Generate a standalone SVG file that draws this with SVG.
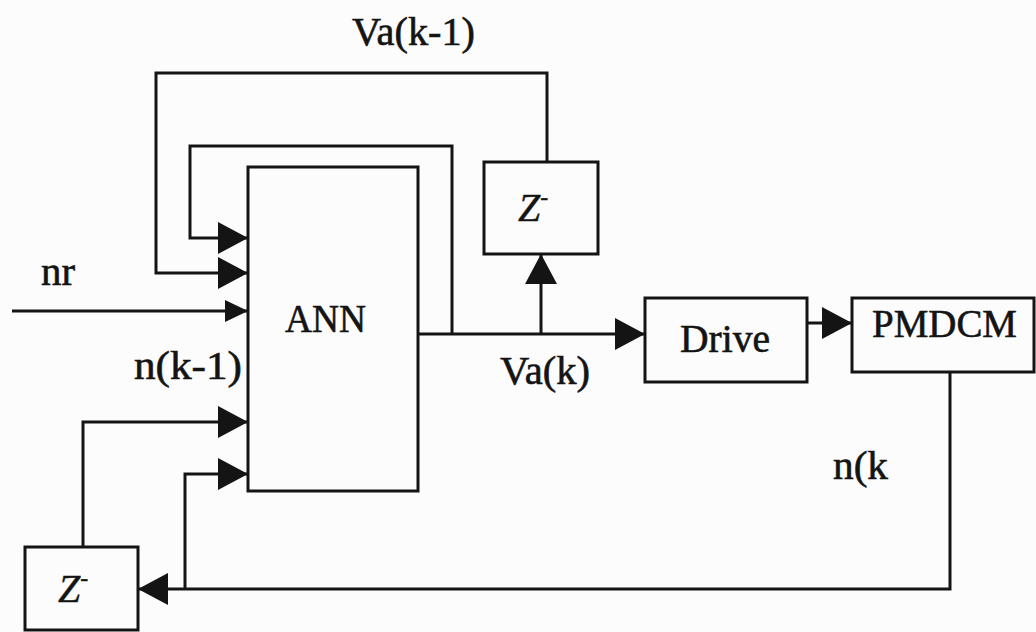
<svg xmlns="http://www.w3.org/2000/svg" width="1036" height="632" viewBox="0 0 1036 632">
<style>
.box{fill:none;stroke:#141414;stroke-width:3}
.ln{fill:none;stroke:#141414;stroke-width:3}
.t{font-family:"Liberation Serif","Times New Roman",serif;font-size:39px;fill:#141414;stroke:#141414;stroke-width:0.6}
.z{font-family:"Liberation Serif","Times New Roman",serif;font-size:40px;font-style:italic;fill:#141414;stroke:#141414;stroke-width:0.4}
</style>
<defs>
<marker id="big" markerUnits="userSpaceOnUse" markerWidth="32" markerHeight="32" refX="30" refY="16" orient="auto">
<path d="M0,0 L30,16 L0,32 Z" fill="#141414"/>
</marker>
<marker id="small" markerUnits="userSpaceOnUse" markerWidth="24" markerHeight="24" refX="23" refY="11" orient="auto">
<path d="M0,0 L23,11 L0,22 Z" fill="#141414"/>
</marker>
</defs>
<rect width="1036" height="632" fill="#fcfcfc"/>
<g id="connectors">
<path class="ln" d="M12,311 H248" marker-end="url(#small)"/>
<path class="ln" d="M547,162 V73 H156 V273 H248" marker-end="url(#big)"/>
<path class="ln" d="M452,334 V146 H190 V238 H248" marker-end="url(#big)"/>
<path class="ln" d="M418,334 H645" marker-end="url(#big)"/>
<path class="ln" d="M541,334 V254" marker-end="url(#big)"/>
<path class="ln" d="M807,323 H852" marker-end="url(#big)"/>
<path class="ln" d="M950,372 V589 H138" marker-end="url(#big)"/>
<path class="ln" d="M185,589 V474 H248" marker-end="url(#big)"/>
<path class="ln" d="M83,547 V422 H248" marker-end="url(#big)"/>
</g>
<g id="labels">
<text class="t" x="352" y="45" textLength="123" lengthAdjust="spacingAndGlyphs">Va(k-1)</text>
<text class="t" x="41" y="285" textLength="34" lengthAdjust="spacingAndGlyphs">nr</text>
<text class="t" x="134" y="379" textLength="108" lengthAdjust="spacingAndGlyphs">n(k-1)</text>
<text class="t" x="500" y="384" textLength="90" lengthAdjust="spacingAndGlyphs">Va(k)</text>
<text class="t" x="833" y="479" textLength="55" lengthAdjust="spacingAndGlyphs">n(k</text>
</g>
<g id="ann">
<rect class="box" x="248" y="167" width="170" height="324"/>
<text class="t" x="285" y="332" textLength="81" lengthAdjust="spacingAndGlyphs">ANN</text>
</g>
<g id="delay-top">
<rect class="box" x="484" y="162" width="114" height="92"/>
<text class="z" x="518" y="221">Z<tspan font-size="24" dy="-16">-</tspan></text>
</g>
<g id="drive">
<rect class="box" x="645" y="298" width="162" height="84"/>
<text class="t" x="680" y="352" textLength="90" lengthAdjust="spacingAndGlyphs">Drive</text>
</g>
<g id="pmdcm">
<rect class="box" x="852" y="298" width="182" height="74"/>
<text class="t" x="872" y="337" textLength="145" lengthAdjust="spacingAndGlyphs">PMDCM</text>
</g>
<g id="delay-bottom">
<rect class="box" x="25" y="547" width="113" height="83"/>
<text class="z" x="58" y="602">Z<tspan font-size="24" dy="-16">-</tspan></text>
</g>
</svg>
